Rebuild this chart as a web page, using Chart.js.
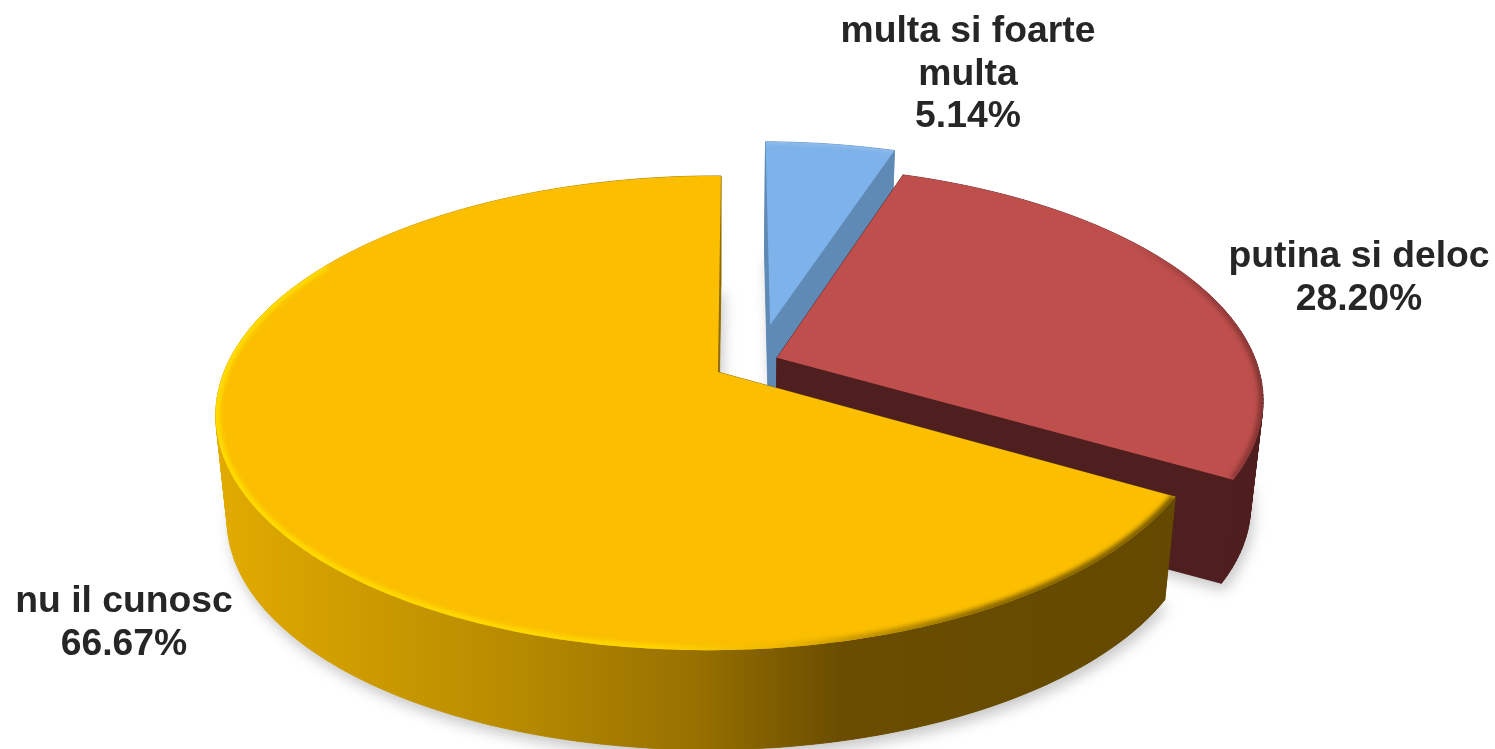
<!DOCTYPE html>
<html>
<head>
<meta charset="utf-8">
<style>html,body{margin:0;padding:0;background:#fff;overflow:hidden}canvas{display:block}</style>
<script src="https://cdn.jsdelivr.net/npm/chart.js@4"></script>
</head>
<body>
<canvas id="c" width="1495" height="749"></canvas>
<script>
const categories = ['multa si foarte multa', 'putina si deloc', 'nu il cunosc'];
const values = [5.14, 28.20, 66.67];
const topColors = ['#7EB2EA', '#BE4F4C', '#FBBE00'];
const wallColors = ['#5F8AB6', '#4F1E1F', '#A07800'];
const explosions = [57.6, 14.5, 32.9];

const view = {x:718, y:372, a:489, b:230, p:0.173, q:0.01, c:-3.5, ox:0.0823, oy:-0.0475, scale:0.977, depth:106};
const labelLayout = [
  {x:968, y:42, lines:['multa si foarte','multa']},
  {x:1359, y:267, lines:['putina si deloc']},
  {x:124, y:612, lines:['nu il cunosc']}
];

function topPt(u,v){
  u+=view.ox; v+=view.oy;
  const w=1-view.p*v+view.q*u;
  return [view.x+(view.a*u+view.c*v)/w, view.y+view.b*v/w];
}
function bottomPt(u,v){
  const t=topPt(u,v);
  return [view.x+view.scale*(t[0]-view.x), view.y+view.depth+view.scale*(t[1]-view.y)];
}
function sliceGeom(el){
  const off=(el.options.offset||0)/el.outerRadius;
  const mid=(el.startAngle+el.endAngle)/2;
  const cx=Math.cos(mid)*off, cy=Math.sin(mid)*off;
  const n=Math.max(8,Math.ceil((el.endAngle-el.startAngle)*60));
  const rim=[], angles=[];
  for(let i=0;i<=n;i++){
    const t=el.startAngle+(el.endAngle-el.startAngle)*i/n;
    rim.push([cx+Math.cos(t),cy+Math.sin(t)]);
    angles.push(t);
  }
  return {c:[cx,cy],rim,angles};
}
function poly(ctx,pts){
  ctx.beginPath();
  pts.forEach((p,i)=>i?ctx.lineTo(p[0],p[1]):ctx.moveTo(p[0],p[1]));
  ctx.closePath();
}
function sector(g,fn){
  return [fn(g.c[0],g.c[1])].concat(g.rim.map(r=>fn(r[0],r[1])));
}
function wallStyle(ctx,i){
  if(i!==2) return wallColors[i];
  const gr=ctx.createLinearGradient(216,0,1177,0);
  gr.addColorStop(0,'#E2AB00');
  gr.addColorStop(0.3,'#B98C00');
  gr.addColorStop(0.5,'#977000');
  gr.addColorStop(0.65,'#6A4D00');
  gr.addColorStop(1,'#644900');
  return gr;
}
function rimStyle(ctx,i){
  const x0=i===2?216:775, x1=i===2?1177:1267;
  const gr=ctx.createLinearGradient(x0,0,x1,0);
  if(i===2){
    gr.addColorStop(0,'#FFDD00');
    gr.addColorStop(0.45,'#FFD600');
    gr.addColorStop(0.58,'#F0B800');
    gr.addColorStop(0.8,'#8A6800');
    gr.addColorStop(1,'#7A5C00');
  }else if(i===1){
    gr.addColorStop(0,'#BE4F4C');
    gr.addColorStop(0.7,'#BE4F4C');
    gr.addColorStop(1,'#823433');
  }else{
    gr.addColorStop(0,'#A9CDF3');
    gr.addColorStop(1,'#A9CDF3');
  }
  return gr;
}

const pie3d = {
  id:'pie3d',
  beforeDatasetDraw(chart,args){
    const ctx=chart.ctx;
    const els=chart.getDatasetMeta(args.index).data;
    const geoms=els.map(sliceGeom);
    ctx.save();
    // soft floor shadows
    ctx.save();
    ctx.filter='blur(7px)';
    ctx.fillStyle='rgba(90,90,90,0.34)';
    geoms.forEach(g=>{
      const pts=sector(g,bottomPt).map(p=>[p[0]+3,p[1]+7]);
      poly(ctx,pts); ctx.fill();
    });
    ctx.restore();
    // side walls, back slices first, then the top faces
    geoms.forEach((g,i)=>{
      const st=wallStyle(ctx,i);
      ctx.fillStyle=st; ctx.strokeStyle=st; ctx.lineWidth=0.8;
      poly(ctx,sector(g,bottomPt)); ctx.fill();
      const ring=[g.c].concat(g.rim,[g.c]);
      for(let k=0;k<ring.length-1;k++){
        const A=ring[k],B=ring[k+1];
        poly(ctx,[topPt(A[0],A[1]),topPt(B[0],B[1]),bottomPt(B[0],B[1]),bottomPt(A[0],A[1])]);
        ctx.fill(); ctx.stroke();
      }
      const face=sector(g,topPt);
      ctx.fillStyle=topColors[i];
      poly(ctx,face); ctx.fill();
      ctx.save();
      poly(ctx,face); ctx.clip();
      ctx.filter='blur(2px)';
      ctx.strokeStyle=rimStyle(ctx,i);
      ctx.lineWidth=i===0?2:9;
      ctx.beginPath();
      let started=false;
      g.rim.forEach((r,k)=>{
        // the bevel catches the light on the front of the yellow slice only
        if(i===2 && g.angles[k]>Math.PI*1.17) return;
        const p=topPt(r[0],r[1]);
        if(started) ctx.lineTo(p[0],p[1]); else {ctx.moveTo(p[0],p[1]); started=true;}
      });
      ctx.stroke();
      ctx.restore();
    });
    ctx.restore();
    return false;
  },
  afterDraw(chart){
    const ctx=chart.ctx;
    ctx.save();
    ctx.font='bold 37.3px "Liberation Sans", Arial, sans-serif';
    ctx.fillStyle='#262626';
    ctx.textAlign='center';
    ctx.textBaseline='alphabetic';
    labelLayout.forEach((l,i)=>{
      const lines=l.lines.concat([values[i].toFixed(2)+'%']);
      lines.forEach((t,k)=>ctx.fillText(t,l.x,l.y+k*42.5));
    });
    ctx.restore();
  }
};

new Chart(document.getElementById('c'),{
  type:'pie',
  data:{labels:categories,datasets:[{data:values,backgroundColor:topColors,borderWidth:0,offset:explosions}]},
  options:{
    responsive:false,animation:false,
    layout:{padding:0},
    plugins:{legend:{display:false},tooltip:{enabled:false}}
  },
  plugins:[pie3d]
});
</script>
</body>
</html>
